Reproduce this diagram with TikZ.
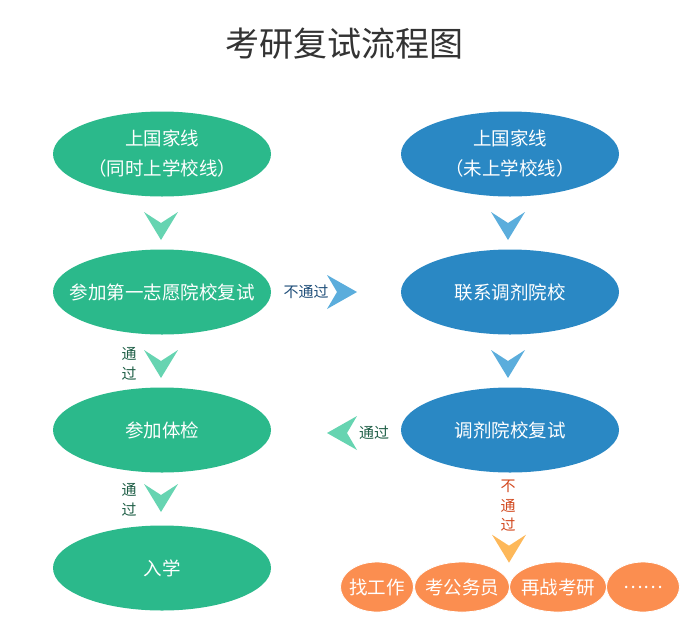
\documentclass[tikz,border=0pt]{standalone}
\usepackage{fontspec}
\setmainfont{Noto Sans CJK SC}
\usetikzlibrary{shapes.geometric,calc}
\definecolor{gfill}{HTML}{2BB98B}
\definecolor{gchev}{HTML}{66D4B1}
\definecolor{bfill}{HTML}{2A88C4}
\definecolor{bchev}{HTML}{5BADDC}
\definecolor{ofill}{HTML}{FB8E50}
\definecolor{ochev}{HTML}{FDB85A}
\definecolor{titlec}{HTML}{333333}
\definecolor{lblblue}{HTML}{1F4E79}
\definecolor{lblgreen}{HTML}{1E5E46}
\definecolor{lblred}{HTML}{D2481E}
\begin{document}
\begin{tikzpicture}[x=1pt,y=-1pt,
  ell/.style={ellipse, inner xsep=-22pt, inner ysep=0pt, minimum width=218pt, minimum height=85pt,
    text=white, align=center, font=\fontsize{18.5}{30}\selectfont},
  gell/.style={ell, fill=gfill},
  bell/.style={ell, fill=bfill},
  oell/.style={ellipse, inner xsep=-10pt, inner ysep=0pt, minimum height=50pt, fill=ofill,
    draw=white, line width=0.8pt, text=white, font=\fontsize{18.5}{22}\selectfont},
  lbl/.style={inner sep=0pt, align=center, font=\fontsize{15}{18}\selectfont},
  vlbl/.style={inner sep=0pt, align=center, font=\fontsize{15}{19.5}\selectfont},
  chevdown/.pic={\fill (-17,-14) -- (0,-3) -- (17,-14) -- (0,14) -- cycle;},
  chevright/.pic={\fill (-15,-17) -- (15,0) -- (-15,17) -- (-5,0) -- cycle;},
  chevleft/.pic={\fill (15,-17) -- (-15,0) -- (15,17) -- (5,0) -- cycle;}
]
\useasboundingbox (0,0) rectangle (700,643);

\node[inner sep=0pt, text=titlec, font=\fontsize{34}{36}\selectfont] (title) at (344,44) {考研复试流程图};

% left column
\node[gell] (e1) at (162,154) {上国家线\\（同时上学校线）};
\node[gell] (e2) at (162,292) {参加第一志愿院校复试};
\node[gell] (e3) at (162,430) {参加体检};
\node[gell] (e4) at (162,568) {入学};

% right column
\node[bell] (r1) at (510,154) {上国家线\\（未上学校线）};
\node[bell] (r2) at (510,292) {联系调剂院校};
\node[bell] (r3) at (510,430) {调剂院校复试};

% outcomes
\node[oell, minimum width=73pt] (o1) at (377,587) {找工作};
\node[oell, minimum width=95pt] (o2) at (462,587) {考公务员};
\node[oell, minimum width=97pt] (o3) at (558,587) {再战考研};
\node[oell, minimum width=73pt] (o4) at (643,587) {……};

% connectors (chevrons)
\pic[fill=gchev] at ($(e1)!0.5!(e2)+(-1,3)$) {chevdown};
\pic[fill=gchev] at ($(e2)!0.5!(e3)+(-1,3)$) {chevdown};
\pic[fill=gchev] at ($(e3)!0.5!(e4)+(-1,-1)$) {chevdown};
\pic[fill=bchev] at ($(r1)!0.5!(r2)+(-2,3)$) {chevdown};
\pic[fill=bchev] at ($(r2)!0.5!(r3)+(-2,3)$) {chevdown};
\pic[fill=bchev] at ($(e2)!0.5!(r2)+(6,0)$) {chevright};
\pic[fill=gchev] at ($(e3)!0.5!(r3)+(6,3)$) {chevleft};
\pic[fill=ochev] at ($(r3.south)+(-1,76)$) {chevdown};

% labels
\node[lbl, text=lblblue] (l1) at (306,292) {不通过};
\node[vlbl, text=lblgreen] (l2) at (129,364) {通\\过};
\node[vlbl, text=lblgreen] (l3) at (129,500) {通\\过};
\node[lbl, text=lblgreen] (l4) at (374,433) {通过};
\node[vlbl, text=lblred] (l5) at (508,506) {不\\通\\过};
\end{tikzpicture}
\end{document}
